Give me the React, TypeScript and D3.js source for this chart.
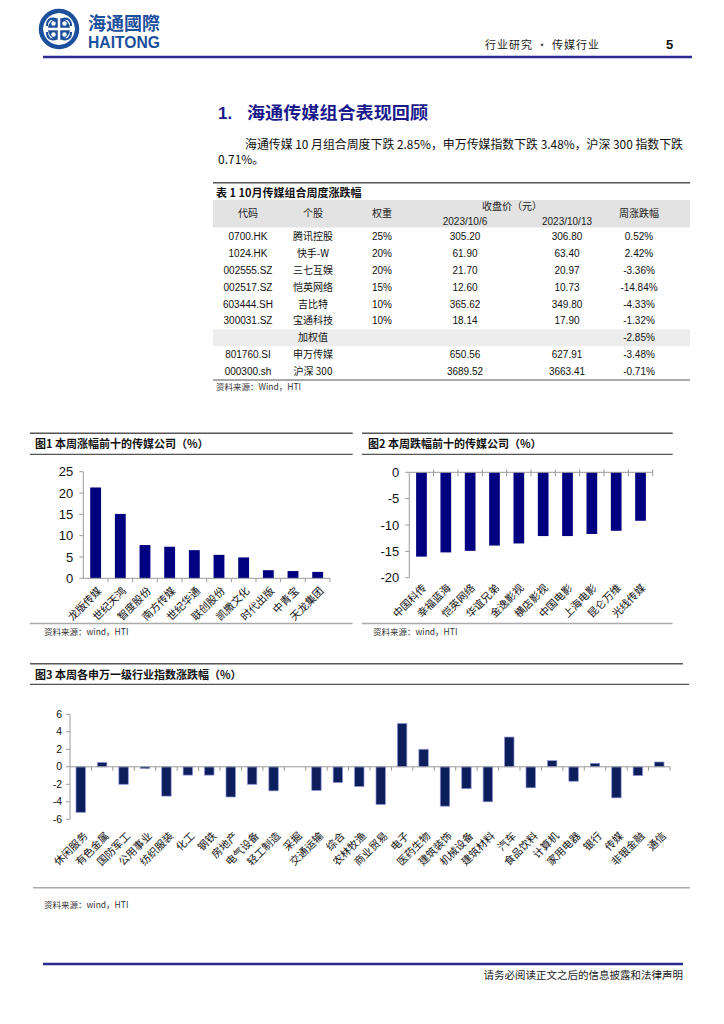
import React from 'react';
import * as d3 from 'd3';

// ---------- data ----------
const fig1Cats = ['龙版传媒', '世纪天鸿', '智度股份', '南方传媒', '世纪华通', '联创股份', '凯撒文化', '时代出版', '中青宝', '天龙集团'];
const fig1Vals = [21.3, 15.1, 7.8, 7.4, 6.6, 5.5, 4.9, 1.9, 1.7, 1.5];
const fig1Ticks = [0, 5, 10, 15, 20, 25];

const fig2Cats = ['中国科传', '幸福蓝海', '恺英网络', '华谊兄弟', '金逸影视', '横店影视', '中国电影', '上海电影', '昆仑万维', '光线传媒'];
const fig2Vals = [-16.0, -15.2, -14.9, -13.9, -13.5, -12.1, -12.1, -11.7, -11.1, -9.2];
const fig2Ticks = [0, -5, -10, -15, -20];

const fig3Cats = ['休闲服务', '有色金属', '国防军工', '公用事业', '纺织服装', '化工', '钢铁', '房地产', '电气设备', '轻工制造', '采掘', '交通运输', '综合', '农林牧渔', '商业贸易', '电子', '医药生物', '建筑装饰', '机械设备', '建筑材料', '汽车', '食品饮料', '计算机', '家用电器', '银行', '传媒', '非银金融', '通信'];
const fig3Vals = [-5.2, 0.5, -2.0, -0.2, -3.35, -0.95, -0.95, -3.45, -2.0, -2.75, 0, -2.7, -1.8, -2.25, -4.3, 4.95, 2.0, -4.5, -2.5, -4.0, 3.4, -2.4, 0.7, -1.65, 0.4, -3.55, -1.0, 0.55];
const fig3Ticks = [6, 4, 2, 0, -2, -4, -6];

const tblCodes = ['0700.HK', '1024.HK', '002555.SZ', '002517.SZ', '603444.SH', '300031.SZ', '', '801760.SI', '000300.sh'];
const tblNames = ['腾讯控股', '快手-W', '三七互娱', '恺英网络', '吉比特', '宝通科技', '加权值', '申万传媒', '沪深 300'];
const tblWeights = ['25%', '20%', '20%', '15%', '10%', '10%', '', '', ''];
const tblClose1 = ['305.20', '61.90', '21.70', '12.60', '365.62', '18.14', '', '650.56', '3689.52'];
const tblClose2 = ['306.80', '63.40', '20.97', '10.73', '349.80', '17.90', '', '627.91', '3663.41'];
const tblChange = ['0.52%', '2.42%', '-3.36%', '-14.84%', '-4.33%', '-1.32%', '-2.85%', '-3.48%', '-0.71%'];

const CJK = '"Noto Sans CJK SC", "Noto Sans", sans-serif';
const LAT = '"Liberation Sans", Arial, sans-serif';
const NAVY = '#000080';
const AXIS = '#9a9a9a';

function BarChart({ cats, vals, ticks, x0, x1, yTop, yBot, domain, padInner, fill, stroke, tickFont, labelFont, labelDx, labelY, tickLabelGap }: any) {
  const x = d3.scaleBand().domain(cats).range([x0, x1]).paddingInner(padInner).paddingOuter(padInner / 2);
  const xs = d3.scaleBand().domain(cats).range([x0, x1]);
  const y = d3.scaleLinear().domain(domain).range([yBot, yTop]);
  const y0 = y(0);
  return (
    <g>
      {/* y axis */}
      <line x1={x0} x2={x0} y1={y(domain[0])} y2={y(domain[1])} stroke={AXIS} strokeWidth={1} />
      {ticks.map((t: number) => (
        <g key={t}>
          <line x1={x0 - 4} x2={x0} y1={y(t)} y2={y(t)} stroke={AXIS} />
          <text x={x0 - tickLabelGap} y={y(t)} dy="0.35em" textAnchor="end" fontFamily={LAT} fontSize={tickFont} fill="#111">{t}</text>
        </g>
      ))}
      {/* bars */}
      {cats.map((c: string, i: number) => {
        const v = vals[i];
        if (v === 0) return null;
        return (
          <rect key={c} x={x(c)} width={x.bandwidth()} y={Math.min(y(v), y0)} height={Math.abs(y(v) - y0)} fill={fill} stroke={stroke} strokeWidth={stroke ? 0.7 : 0} />
        );
      })}
      {/* x axis */}
      <line x1={x0} x2={x1} y1={y0} y2={y0} stroke={AXIS} strokeWidth={1} />
      {cats.map((c: string, i: number) => (
        <line key={'t' + c} x1={(xs(c) as number) + xs.bandwidth()} x2={(xs(c) as number) + xs.bandwidth()} y1={y0 - (domain[1] === 0 ? 3 : 0)} y2={y0 + 4} stroke={AXIS} />
      ))}
      {cats.map((c: string) => {
        const cx = (xs(c) as number) + xs.bandwidth() / 2 + labelDx;
        return (
          <text key={'l' + c} transform={`translate(${cx},${labelY}) rotate(-45)`} dy="0.35em" textAnchor="end" fontFamily={CJK} fontSize={labelFont} fill="#111">{c}</text>
        );
      })}
    </g>
  );
}

function Logo() {
  const cx = 59, cy = 29;
  return (
    <g>
      <circle cx={cx} cy={cy} r={18} fill="#fff" stroke="#1c4f9c" strokeWidth={4.5} />
      <circle cx={cx} cy={cy} r={11} fill="#1c4f9c" />
      <line x1={cx - 16} x2={cx + 16} y1={cy} y2={cy} stroke="#fff" strokeWidth={2.5} />
      <line x1={cx} x2={cx} y1={cy - 16} y2={cy + 16} stroke="#fff" strokeWidth={2.5} />
      {[[-1, -1], [1, -1], [1, 1], [-1, 1]].map(([a, b], i) => (
        <circle key={i} cx={cx + a * 5.5} cy={cy + b * 5.5} r={2.2} fill="#fff" />
      ))}
      {[[-1, -1], [1, -1], [1, 1], [-1, 1]].map(([a, b], i) => (
        <path key={'p' + i} d={`M${cx + a * 3},${cy + b * 10} Q${cx + a * 12},${cy + b * 12} ${cx + a * 12},${cy + b * 3}`} fill="none" stroke="#1c4f9c" strokeWidth={2.2} />
      ))}
      <text x={88} y={30} fontFamily={CJK} fontSize={18} fontWeight={700} fill="#1c4f9c" textLength={72} lengthAdjust="spacingAndGlyphs">海通國際</text>
      <text x={88} y={48} fontFamily={LAT} fontSize={17} fontWeight={700} fill="#1c4f9c" textLength={72} lengthAdjust="spacingAndGlyphs">HAITONG</text>
    </g>
  );
}

function Table() {
  const left = 213, right = 690;
  const rows = d3.scaleBand().domain(tblNames.map((_, i) => String(i))).range([228, 380]);
  const colCode = 248, colName = 313, colW = 382, colC1 = 465, colC2 = 567, colChg = 639;
  const fs = 10;
  return (
    <g>
      <line x1={left} x2={right} y1={182.7} y2={182.7} stroke="#555" strokeWidth={1.5} />
      <text x={216} y={193} dy="0.35em" fontFamily={CJK} fontSize={11} fontWeight={700} fill="#111">表 1 10月传媒组合周度涨跌幅</text>
      <rect x={left} y={200} width={right - left} height={27.5} fill="#e3e3e3" />
      <text x={colCode} y={213.5} dy="0.35em" textAnchor="middle" fontFamily={CJK} fontSize={fs} fill="#222">代码</text>
      <text x={colName} y={213.5} dy="0.35em" textAnchor="middle" fontFamily={CJK} fontSize={fs} fill="#222">个股</text>
      <text x={colW} y={213.5} dy="0.35em" textAnchor="middle" fontFamily={CJK} fontSize={fs} fill="#222">权重</text>
      <text x={512} y={206} dy="0.35em" textAnchor="middle" fontFamily={CJK} fontSize={fs} fill="#222">收盘价（元）</text>
      <text x={colC1} y={221.5} dy="0.35em" textAnchor="middle" fontFamily={LAT} fontSize={fs} fill="#222">2023/10/6</text>
      <text x={colC2} y={221.5} dy="0.35em" textAnchor="middle" fontFamily={LAT} fontSize={fs} fill="#222">2023/10/13</text>
      <text x={colChg} y={213.5} dy="0.35em" textAnchor="middle" fontFamily={CJK} fontSize={fs} fill="#222">周涨跌幅</text>
      {tblNames.map((n, i) => {
        const y0 = rows(String(i)) as number;
        const cy = y0 + rows.bandwidth() / 2;
        return (
          <g key={i}>
            {n === '加权值' && <rect x={left} y={y0} width={right - left} height={rows.bandwidth()} fill="#ededed" />}
            <text x={colCode} y={cy} dy="0.35em" textAnchor="middle" fontFamily={LAT} fontSize={fs} fill="#111">{tblCodes[i]}</text>
            <text x={colName} y={cy} dy="0.35em" textAnchor="middle" fontFamily={CJK} fontSize={fs} fill="#111">{n}</text>
            <text x={colW} y={cy} dy="0.35em" textAnchor="middle" fontFamily={LAT} fontSize={fs} fill="#111">{tblWeights[i]}</text>
            <text x={colC1} y={cy} dy="0.35em" textAnchor="middle" fontFamily={LAT} fontSize={fs} fill="#111">{tblClose1[i]}</text>
            <text x={colC2} y={cy} dy="0.35em" textAnchor="middle" fontFamily={LAT} fontSize={fs} fill="#111">{tblClose2[i]}</text>
            <text x={colChg} y={cy} dy="0.35em" textAnchor="middle" fontFamily={LAT} fontSize={fs} fill="#111">{tblChange[i]}</text>
          </g>
        );
      })}
      <line x1={left} x2={right} y1={380} y2={380} stroke="#555" strokeWidth={1.2} />
      <text x={216} y={387.5} dy="0.35em" fontFamily={CJK} fontSize={8.5} fill="#333">资料来源：Wind，HTI</text>
    </g>
  );
}

export default function App() {
  return (
    <svg width={724} height={1024} style={{ position: 'absolute', left: 0, top: 0, background: '#fff' }}>
      <rect width={724} height={1024} fill="#fff" />
      <Logo />
      <text x={485} y={45} dy="0.35em" fontFamily={CJK} fontSize={11} fill="#222" textLength={114} lengthAdjust="spacing">行业研究 • 传媒行业</text>
      <text x={666} y={44} dy="0.35em" fontFamily={LAT} fontSize={13} fontWeight={700} fill="#111">5</text>
      <line x1={43} x2={692} y1={57} y2={57} stroke="#2f2a8f" strokeWidth={2.5} />

      <text x={218} y={113} dy="0.35em" fontFamily={LAT} fontSize={17} fontWeight={700} fill="#1a1a8c">1.</text>
      <text x={247} y={113} dy="0.35em" fontFamily={CJK} fontSize={17} fontWeight={700} fill="#1a1a8c" textLength={181} lengthAdjust="spacingAndGlyphs">海通传媒组合表现回顾</text>
      <text x={245} y={145} dy="0.35em" fontFamily={CJK} fontSize={12} fill="#111" textLength={438} lengthAdjust="spacingAndGlyphs">海通传媒 10 月组合周度下跌 2.85%，申万传媒指数下跌 3.48%，沪深 300 指数下跌</text>
      <text x={218} y={160} dy="0.35em" fontFamily={CJK} fontSize={12} fill="#111">0.71%。</text>

      <Table />

      {/* Figure 1 */}
      <line x1={30} x2={352.7} y1={433.3} y2={433.3} stroke="#555" strokeWidth={1.5} />
      <text x={35} y={444} dy="0.35em" fontFamily={CJK} fontSize={11} fontWeight={700} fill="#111">图1  本周涨幅前十的传媒公司（%）</text>
      <line x1={30} x2={352.7} y1={454.3} y2={454.3} stroke="#555" strokeWidth={1.2} />
      <BarChart cats={fig1Cats} vals={fig1Vals} ticks={fig1Ticks} x0={83.3} x1={330} yTop={471.7} yBot={578.3} domain={[0, 25]} padInner={0.56} fill={NAVY} stroke={null} tickFont={13} labelFont={10.5} labelDx={4} labelY={589} tickLabelGap={10} />
      <line x1={30} x2={352.7} y1={623.5} y2={623.5} stroke="#aaa" strokeWidth={1.5} />
      <text x={44} y={632} dy="0.35em" fontFamily={CJK} fontSize={8.5} fill="#333">资料来源：wind，HTI</text>

      {/* Figure 2 */}
      <line x1={362} x2={672.7} y1={433.3} y2={433.3} stroke="#555" strokeWidth={1.5} />
      <text x={368} y={444} dy="0.35em" fontFamily={CJK} fontSize={11} fontWeight={700} fill="#111">图2  本周跌幅前十的传媒公司（%）</text>
      <line x1={362} x2={672.7} y1={454.3} y2={454.3} stroke="#555" strokeWidth={1.2} />
      <BarChart cats={fig2Cats} vals={fig2Vals} ticks={fig2Ticks} x0={409.3} x1={652.7} yTop={472.3} yBot={577.7} domain={[-20, 0]} padInner={0.56} fill={NAVY} stroke={null} tickFont={13} labelFont={10.5} labelDx={3} labelY={586} tickLabelGap={10} />
      <line x1={362} x2={672.7} y1={623.5} y2={623.5} stroke="#aaa" strokeWidth={1.5} />
      <text x={373} y={632} dy="0.35em" fontFamily={CJK} fontSize={8.5} fill="#333">资料来源：wind，HTI</text>

      {/* Figure 3 */}
      <line x1={30} x2={683} y1={663.7} y2={663.7} stroke="#555" strokeWidth={1.5} />
      <text x={35} y={675} dy="0.35em" fontFamily={CJK} fontSize={11} fontWeight={700} fill="#111">图3  本周各申万一级行业指数涨跌幅（%）</text>
      <line x1={30} x2={689} y1={684.3} y2={684.3} stroke="#555" strokeWidth={1.2} />
      <BarChart cats={fig3Cats} vals={fig3Vals} ticks={fig3Ticks} x0={70} x1={670} yTop={714.3} yBot={819.3} domain={[-6, 6]} padInner={0.56} fill="#0c1f5c" stroke="#8c92d6" tickFont={10.5} labelFont={10.5} labelDx={5} labelY={834} tickLabelGap={8} />
      <line x1={33} x2={690} y1={887.7} y2={887.7} stroke="#aaa" strokeWidth={1.5} />
      <text x={44} y={905} dy="0.35em" fontFamily={CJK} fontSize={8.5} fill="#333">资料来源：wind，HTI</text>

      {/* Footer */}
      <line x1={43} x2={683} y1={964} y2={964} stroke="#2f2a8f" strokeWidth={2.5} />
      <text x={683} y={975} dy="0.35em" textAnchor="end" fontFamily={CJK} fontSize={10.5} fill="#222">请务必阅读正文之后的信息披露和法律声明</text>
    </svg>
  );
}
